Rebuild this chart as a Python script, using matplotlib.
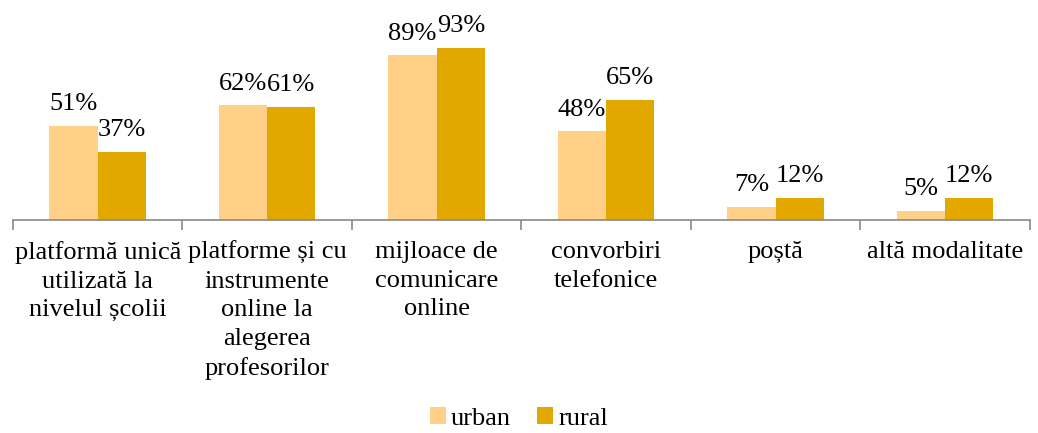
import matplotlib.pyplot as plt
import numpy as np

# Data
categories = ['platformă unică\nutilizată la\nnivelul școlii',
              'platforme și cu\ninstrumente\nonline la\nalegerea\nprofesorilor',
              'mijloace de\ncomunicare\nonline',
              'convorbiri\ntelefonice',
              'poștă',
              'altă modalitate']
urban = [51, 62, 89, 48, 7, 5]
rural = [37, 61, 93, 65, 12, 12]

plt.rcParams['font.family'] = ['Liberation Serif', 'DejaVu Serif']

fig = plt.figure(figsize=(10.38, 4.33), dpi=100)
ax = fig.add_axes([0.0125, 0.492, 0.9795, 0.427])

x = np.arange(len(categories))
w = 0.285
b1 = ax.bar(x - w / 2, urban, w, color='#FFD085', label='urban')
b2 = ax.bar(x + w / 2, rural, w, color='#E3A800', label='rural')

# value labels above bars
for bars, vals in ((b1, urban), (b2, rural)):
    for r, v in zip(bars, vals):
        ax.text(r.get_x() + r.get_width() / 2, v + 8.5, f'{v}%',
                ha='center', va='baseline', fontsize=19)

ax.set_xlim(-0.5, len(categories) - 0.5)
ax.set_ylim(0, 100)
ax.set_yticks([])
for s in ['top', 'right', 'left']:
    ax.spines[s].set_visible(False)
ax.spines['bottom'].set_color('#898989')
ax.spines['bottom'].set_linewidth(1.2)

ax.set_xticks(np.arange(len(categories) + 1) - 0.5)
ax.set_xticklabels([])
ax.tick_params(axis='x', length=7, color='#898989', width=1.2)
ax.set_xticks(x, minor=True)
ax.set_xticklabels(categories, minor=True, fontsize=19, linespacing=1.4)
ax.tick_params(axis='x', which='minor', length=0, pad=15)

fig.legend(loc='lower center', bbox_to_anchor=(0.5, -0.048), ncol=2, frameon=False,
           fontsize=19, handlelength=0.6, handleheight=0.6, handletextpad=0.2,
           columnspacing=1.0)

fig.savefig('out.png', dpi=100)
